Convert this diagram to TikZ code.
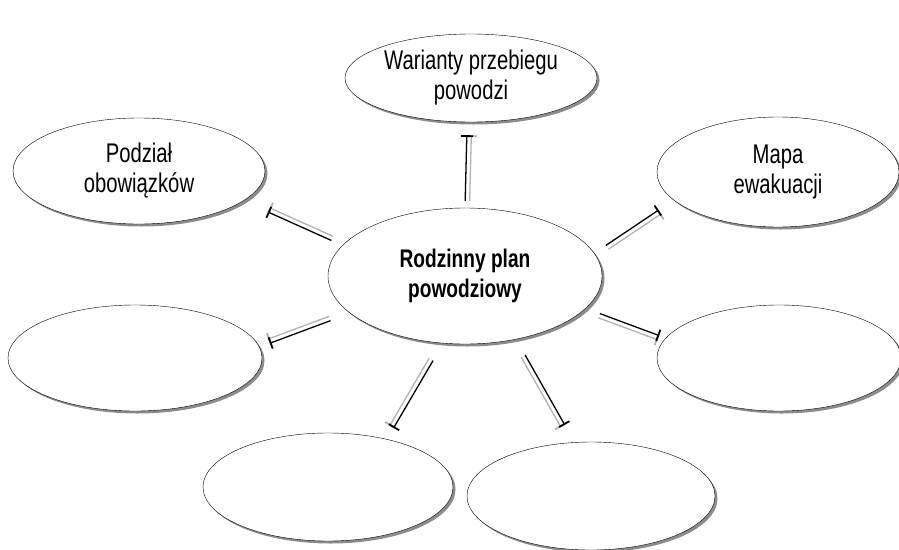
\documentclass[tikz,border=0pt]{standalone}
\usepackage{fontspec}
\setmainfont{Liberation Sans}[FakeStretch=0.75]
\usetikzlibrary{shapes.geometric,shadows,arrows.meta}

\tikzset{
  bubble/.style={ellipse, draw, thin, fill=white, inner sep=0pt, align=center,
    drop shadow={shadow xshift=2.5pt, shadow yshift=-2.5pt, fill=black!45, opacity=1},
    font=\fontsize{27}{30}\selectfont},
  link/.style={line width=1.3pt, -{Bar[width=12pt, line width=1.8pt]}},
  linkshade/.style={link, black!30},
}

\begin{document}
\begin{tikzpicture}[x=1pt, y=-1pt]

  \useasboundingbox (0, 0) rectangle (899, 549);

  \node[bubble, minimum width=274pt, minimum height=136pt,
    font=\fontsize{25.5}{30}\selectfont\bfseries] (c) at (465, 276) {Rodzinny plan\\powodziowy};

  \node[bubble, minimum width=252pt, minimum height=88pt] (t) at (471, 78) {Warianty przebiegu\\powodzi};
  \node[bubble, minimum width=252pt, minimum height=106pt] (w) at (139, 171) {Podział\\obowiązków};
  \node[bubble, minimum width=242pt, minimum height=110pt] (m) at (778, 172) {Mapa\\ewakuacji};
  \node[bubble, minimum width=254pt, minimum height=106pt] (l) at (135, 358) {};
  \node[bubble, minimum width=244pt, minimum height=106pt] (r) at (779, 358) {};
  \node[bubble, minimum width=250pt, minimum height=108pt] (bl) at (328, 487) {};
  \node[bubble, minimum width=248pt, minimum height=108pt] (br) at (591, 496) {};

  % connectors: grey copy first, black on top
  \foreach \from/\to/\s/\e/\dx/\dy in {
      c.90/t.-95/7pt/13pt/4.5/0,
      c.166/w.-16/12pt/27pt/1.8/-4.1,
      c.10/m.195/14pt/18pt/2.5/3.8,
      c.198/l.5/21pt/11pt/-1.6/-4.2,
      c.-15/r.170/15pt/7pt/-1.5/4.2,
      c.-108/bl.39/20pt/13pt/-3.9/-2.3,
      c.-51/br.107/18pt/20pt/-3.9/2.2}
  {
    \draw[linkshade, shorten <=\s, shorten >=\e, transform canvas={shift={(\dx, \dy)}}] (\from) -- (\to);
    \draw[link, shorten <=\s, shorten >=\e] (\from) -- (\to);
  }

\end{tikzpicture}
\end{document}
